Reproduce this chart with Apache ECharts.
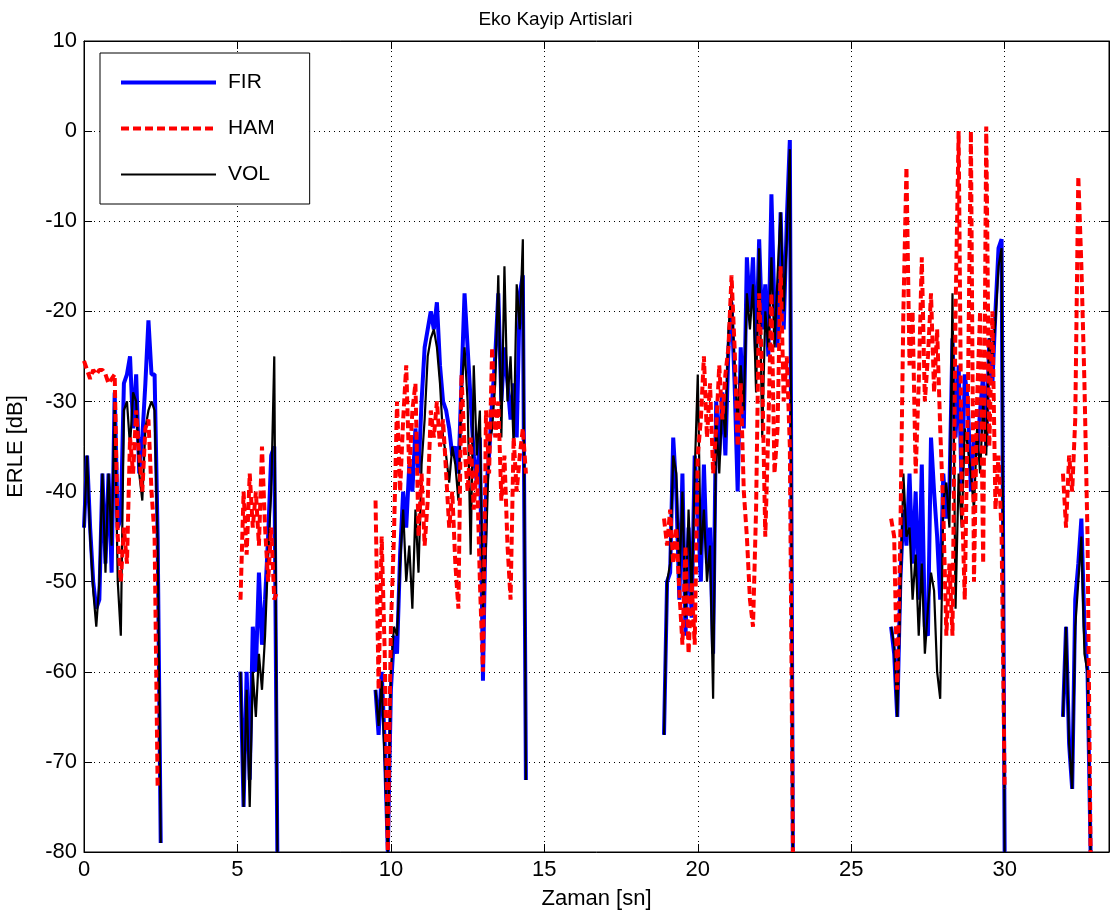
<!DOCTYPE html>
<html>
<head>
<meta charset="utf-8">
<script src="https://cdn.jsdelivr.net/npm/echarts@6/dist/echarts.min.js"></script>
<style>
html,body{margin:0;padding:0;background:#fff;}
#chart{width:1111px;height:922px;}
</style>
</head>
<body>
<div id="chart"></div>
<script>
// ---- Data ----
const titleText = 'Eko Kayip Artislari';
const seriesNames = ['FIR', 'HAM', 'VOL'];
const xTicks = [0, 5, 10, 15, 20, 25, 30];
const yTicks = [-80, -70, -60, -50, -40, -30, -20, -10, 0, 10];

// time samples of each speech segment [sn]
const timeSegs = [
  [0.0,0.1,0.2,0.3,0.4,0.5,0.6,0.7,0.8,0.9,1.0,1.1,1.2,1.3,1.4,1.5,1.6,1.7,1.8,1.9,2.0,2.1,2.2,2.3,2.4,2.5],
  [5.1,5.2,5.3,5.4,5.5,5.6,5.7,5.8,5.9,6.0,6.1,6.2,6.3],
  [9.5,9.6,9.7,9.8,9.9,10.0,10.1,10.2,10.3,10.4,10.5,10.6,10.7,10.8,10.9,11.0,11.1,11.2,11.3,11.4,11.5,11.6,11.7,11.8,11.9,12.0,12.1,12.2,12.3,12.4,12.5,12.6,12.7,12.8,12.9,13.0,13.1,13.2,13.3,13.4,13.5,13.6,13.7,13.8,13.9,14.0,14.1,14.2,14.3,14.4],
  [18.9,19.0,19.1,19.2,19.3,19.4,19.5,19.6,19.7,19.8,19.9,20.0,20.1,20.2,20.3,20.4,20.5,20.6,20.7,20.8,20.9,21.0,21.1,21.2,21.3,21.4,21.5,21.6,21.7,21.8,21.9,22.0,22.1,22.2,22.3,22.4,22.5,22.6,22.7,22.8,22.9,23.0,23.1],
  [26.3,26.4,26.5,26.6,26.7,26.8,26.9,27.0,27.1,27.2,27.3,27.4,27.5,27.6,27.7,27.8,27.9,28.0,28.1,28.2,28.3,28.4,28.5,28.6,28.7,28.8,28.9,29.0,29.1,29.2,29.3,29.4,29.5,29.6,29.7,29.8,29.9,30.0],
  [31.9,32.0,32.1,32.2,32.3,32.4,32.5,32.6,32.7,32.8]
];

// ERLE [dB] values per segment
const firSegs = [
  [-44,-36,-44,-50,-53,-52,-38,-48,-38,-49,-29,-44,-43,-28,-27,-25,-33,-27,-38,-34,-28,-21,-27,-27,-45,-79],
  [-60,-75,-60,-72,-55,-60,-49,-57,-52,-45,-36,-35,-80],
  [-62,-67,-60,-68,-80,-62,-56,-58,-47,-40,-44,-37,-40,-33,-38,-30,-24,-22,-20,-22,-19,-26,-30,-31,-33,-36,-35,-38,-28,-18,-24,-30,-36,-39,-34,-61,-40,-36,-30,-25,-18,-30,-24,-28,-32,-28,-34,-18,-16,-72],
  [-67,-50,-49,-34,-40,-52,-38,-56,-44,-54,-36,-42,-50,-37,-48,-44,-58,-30,-36,-29,-36,-24,-19,-28,-40,-24,-33,-14,-20,-14,-25,-12,-22,-17,-25,-7,-20,-24,-9,-22,-10,-1,-80],
  [-55,-58,-65,-50,-42,-46,-38,-48,-40,-52,-37,-55,-56,-34,-40,-45,-52,-38,-43,-40,-23,-34,-26,-40,-27,-30,-40,-34,-36,-31,-27,-35,-23,-28,-20,-13,-12,-80],
  [-65,-55,-68,-73,-52,-48,-43,-55,-60,-80]
];
const hamSegs = [
  [-25.5,-26.5,-27.5,-26.5,-27,-26.5,-26.5,-27,-28,-27.5,-27,-45,-50,-44,-48,-34,-38,-31,-36,-40,-33,-32,-40,-45,-73,null],
  [-52,-40,-47,-38,-44,-40,-46,-35,-44,-50,-44,-52,-51],
  [-41,-62,-45,-58,-80,-55,-45,-30,-40,-32,-26,-38,-31,-28,-45,-38,-46,-41,-31,-34,-30,-35,-32,-38,-44,-40,-48,-53,-27,-35,-40,-34,-42,-37,-50,-60,-31,-38,-24,-34,-30,-41,-36,-46,-52,-34,-40,-36,-33,-38],
  [-43,-46,-42,-48,-44,-51,-57,-46,-58,-50,-57,-36,-32,-25,-34,-28,-38,-33,-26,-32,-27,-24,-16,-24,-35,-28,-40,-45,-52,-55,-42,-18,-27,-45,-33,-18,-38,-33,-15,-30,-25,-35,-80],
  [-43,-45,-62,-45,-20,-4,-26,-20,-38,-28,-14,-30,-25,-18,-29,-22,-33,-42,-56,-48,-56,-20,0,-40,-52,-30,0,-50,-30,-20,-48,0.5,-35,-20,-42,-36,-45,-73],
  [-38,-44,-36,-40,-32,-5,-15,-28,-45,-80]
];
const volSegs = [
  [-44,-36,-45,-51,-55,-50,-38,-49,-38,-46,-30,-50,-56,-31,-30,-35,-29,-30,-38,-41,-33,-31,-30,-31,-46,-79],
  [-60,-75,-62,-75,-60,-65,-58,-62,-56,-47,-40,-25,-80],
  [-62,-66,-61,-70,-80,-60,-55,-56,-48,-42,-50,-46,-53,-42,-49,-37,-32,-25,-23,-22,-24,-28,-34,-36,-39,-35,-37,-41,-29,-24,-30,-47,-26,-36,-31,-53,-46,-35,-33,-28,-16,-34,-15,-30,-25,-35,-17,-22,-12,-72],
  [-67,-50,-48,-36,-38,-50,-40,-54,-42,-52,-38,-27,-47,-42,-50,-46,-63,-32,-38,-30,-34,-22,-18,-26,-32,-26,-31,-18,-22,-17,-29,-13,-34,-20,-24,-14,-24,-16,-9,-20,-12,-2,-80],
  [-55,-57,-65,-52,-38,-45,-44,-52,-47,-56,-48,-58,-53,-49,-51,-60,-63,-41,-39,-44,-18,-53,-38,-44,-33,-35,-38,-42,-33,-38,-30,-36,-23,-25,-21,-15,-13,-80],
  [-65,-55,-68,-73,-55,-50,-45,-58,-60,-80]
];

const X_MIN = 0, X_MAX = 33.4, Y_MIN = -80, Y_MAX = 10;

// join segments, with a break (null) between them
function build(segs) {
  const out = [];
  timeSegs.forEach((ts, i) => {
    if (i > 0) {
      const prev = timeSegs[i - 1];
      out.push([(prev[prev.length - 1] + ts[0]) / 2, null]);
    }
    ts.forEach((t, j) => out.push([t, segs[i][j]]));
  });
  return out;
}

const FONT = 'Liberation Sans, Arial, Helvetica, sans-serif';
const chart = echarts.init(document.getElementById('chart'), null, {renderer: 'canvas'});

const tickStyle = {show: true, inside: true, length: 8, lineStyle: {color: '#000', width: 1}};
const FS = 22;

chart.setOption({
  backgroundColor: '#ffffff',
  animation: false,
  title: {
    text: titleText, left: 'center', top: 5,
    textStyle: {fontFamily: FONT, fontSize: 19, fontWeight: 'normal', color: '#000'}
  },
  grid: {left: 84, right: 2, top: 41, bottom: 70, show: true, borderColor: '#000', borderWidth: 1,
         backgroundColor: '#fff', containLabel: false, outerBoundsMode: 'none'},
  legend: {
    orient: 'vertical', left: 100, top: 53,
    data: seriesNames,
    itemWidth: 95, itemHeight: 20, itemGap: 25,
    padding: [19, 35, 19, 19],
    backgroundColor: '#fff', borderColor: '#000', borderWidth: 1,
    itemStyle: {opacity: 0, borderWidth: 0},
    lineStyle: {width: 'inherit', type: 'inherit'},
    textStyle: {fontFamily: FONT, fontSize: 21, color: '#000', padding: [0, 0, 0, 7]},
    selectedMode: false
  },
  xAxis: [{
    type: 'value', min: X_MIN, max: X_MAX, interval: 5,
    name: 'Zaman [sn]', nameLocation: 'middle', nameGap: 36,
    nameTextStyle: {fontFamily: FONT, fontSize: FS, color: '#000'},
    axisLine: {show: true, onZero: false, lineStyle: {color: '#000'}},
    axisTick: tickStyle,
    axisLabel: {fontFamily: FONT, fontSize: FS, color: '#000', margin: 7, showMaxLabel: false,
      formatter: v => xTicks.includes(v) ? String(v) : ''},
    splitLine: {show: true, lineStyle: {color: '#000', type: [1, 4], width: 1}}
  }, {
    type: 'value', position: 'top', min: X_MIN, max: X_MAX, interval: 5,
    axisLine: {show: true, onZero: false, lineStyle: {color: '#000'}},
    axisTick: tickStyle, axisLabel: {show: false}, splitLine: {show: false}
  }],
  yAxis: [{
    type: 'value', min: Y_MIN, max: Y_MAX, interval: 10,
    name: 'ERLE [dB]', nameLocation: 'middle', nameGap: 57, nameRotate: 90,
    nameTextStyle: {fontFamily: FONT, fontSize: FS, color: '#000'},
    axisLine: {show: true, onZero: false, lineStyle: {color: '#000'}},
    axisTick: tickStyle,
    axisLabel: {fontFamily: FONT, fontSize: FS, color: '#000', margin: 7,
      formatter: v => yTicks.includes(v) ? String(v) : ''},
    splitLine: {show: true, lineStyle: {color: '#000', type: [1, 4], width: 1}}
  }, {
    type: 'value', position: 'right', min: Y_MIN, max: Y_MAX, interval: 10,
    axisLine: {show: true, onZero: false, lineStyle: {color: '#000'}},
    axisTick: tickStyle, axisLabel: {show: false}, splitLine: {show: false}
  }],
  series: [
    {name: 'FIR', type: 'line', data: build(firSegs), showSymbol: false, symbol: 'none', connectNulls: false,
     z: 2, clip: true, lineStyle: {color: '#0000ff', width: 4}, itemStyle: {color: '#0000ff'}},
    {name: 'HAM', type: 'line', data: build(hamSegs), showSymbol: false, symbol: 'none', connectNulls: false,
     z: 4, clip: true, lineStyle: {color: '#ff0000', width: 4, type: [8, 4]}, itemStyle: {color: '#ff0000'}},
    {name: 'VOL', type: 'line', data: build(volSegs), showSymbol: false, symbol: 'none', connectNulls: false,
     z: 3, clip: true, lineStyle: {color: '#000000', width: 2.2}, itemStyle: {color: '#000000'}}
  ]
});
</script>
</body>
</html>
